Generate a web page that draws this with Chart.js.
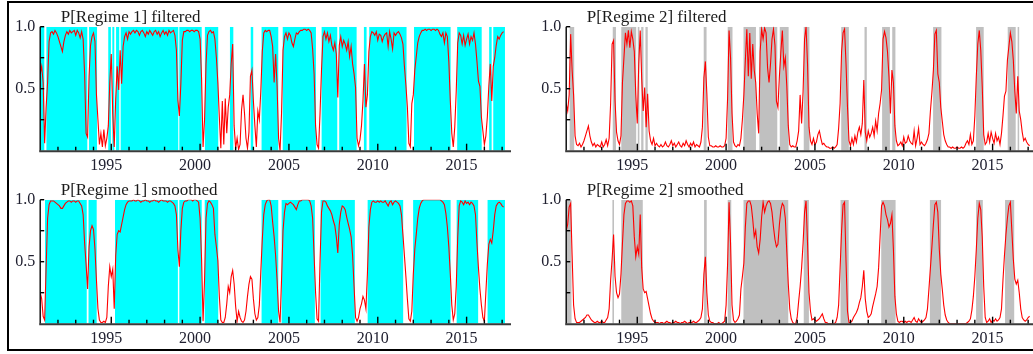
<!DOCTYPE html>
<html><head><meta charset="utf-8">
<script src="https://cdn.jsdelivr.net/npm/chart.js@4.4.0/dist/chart.umd.min.js"></script>
<style>
html,body{margin:0;padding:0;background:#fff;overflow:hidden;width:1033px;height:354px;}
#wrap{position:relative;width:1033px;height:354px;overflow:hidden;background:#fff;}
canvas{position:absolute;}
#frame{position:absolute;left:7px;top:1px;width:1100px;height:346px;border-left:2px solid #000;border-top:2px solid #000;border-bottom:2px solid #000;}
</style></head><body>
<div id="wrap">
<div id="frame"></div>
<canvas id="c1" width="520" height="176" style="left:0;top:0"></canvas>
<canvas id="c2" width="520" height="176" style="left:526px;top:0"></canvas>
<canvas id="c3" width="520" height="176" style="left:0;top:173px"></canvas>
<canvas id="c4" width="520" height="176" style="left:526px;top:173px"></canvas>
</div>
<script>
// Monthly observations starting January 1991 (values in percent)
const startYear = 1991;
const periodsPerYear = 12;

const p1Filtered = [62,68,55,6,35,55,88,95,96,94,
97,95,92,88,84,80,88,93,96,94,
97,95,96,97,93,97,95,91,96,90,
62,14,11,60,85,92,95,88,45,25,
5,14,3,17,4,10,20,55,78,30,
3,42,68,49,81,54,84,92,95,90,
96,94,96,97,95,97,96,93,96,97,
95,92,96,94,97,95,93,96,97,94,
96,92,95,97,94,96,93,97,95,96,
97,93,81,41,28,54,89,96,96,97,
97,96,97,97,96,97,97,96,90,58,
3,25,70,93,96,97,95,96,90,75,
55,27,2,40,5,42,14,35,45,70,
86,20,2,10,1,5,33,45,30,10,
2,15,60,65,40,20,3,32,25,48,
80,95,97,96,97,97,92,84,55,78,
52,10,0,30,81,92,95,90,95,93,
87,84,90,95,94,96,97,97,98,98,
97,98,97,95,82,62,20,5,2,30,
65,92,96,90,95,88,93,85,81,87,
78,43,85,92,84,89,86,81,88,76,
84,70,62,51,10,4,9,20,40,70,
35,45,80,92,96,95,93,96,89,94,
93,88,92,94,95,84,96,90,82,95,
93,95,96,94,91,86,68,53,35,6,
3,38,45,65,76,87,92,95,97,97,
98,97,98,98,97,98,98,97,98,97,
94,92,95,87,95,92,72,40,14,3,
19,48,87,95,93,86,93,85,90,94,
86,92,89,95,86,72,56,52,27,16,
5,12,27,52,70,40,68,75,85,92,
90,93,95,96];

const p2Filtered = [38,32,45,94,65,45,12,5,4,6,
3,5,8,12,16,20,12,7,4,6,
3,5,4,3,7,3,5,9,4,10,
38,86,89,40,15,8,5,12,55,75,
95,86,97,83,96,90,80,45,22,70,
97,58,32,51,19,46,16,8,5,10,
4,6,4,3,5,3,4,7,4,3,
5,8,4,6,3,5,7,4,3,6,
4,8,5,3,6,4,7,3,5,4,
3,7,19,59,72,46,11,4,4,3,
3,4,3,3,4,3,3,4,10,42,
97,75,30,7,4,3,5,4,10,25,
45,73,98,60,95,58,86,65,55,30,
14,80,98,90,99,95,67,55,70,90,
98,85,40,35,60,80,97,68,75,52,
20,5,3,4,3,3,8,16,45,22,
48,90,100,70,19,8,5,10,5,7,
13,16,10,5,6,4,3,3,2,2,
3,2,3,5,18,38,80,95,98,70,
35,8,4,10,5,12,7,15,19,13,
22,57,15,8,16,11,14,19,12,24,
16,30,38,49,90,96,91,80,60,30,
65,55,20,8,4,5,7,4,11,6,
7,12,8,6,5,16,4,10,18,5,
7,5,4,6,9,14,32,47,65,94,
97,62,55,35,24,13,8,5,3,3,
2,3,2,2,3,2,2,3,2,3,
6,8,5,13,5,8,28,60,86,97,
81,52,13,5,7,14,7,15,10,6,
14,8,11,5,14,28,44,48,73,84,
95,88,73,48,30,60,32,25,15,8,
10,7,5,4];

const p1Smoothed = [25,20,6,3,45,85,96,99,99,99,
98,97,96,95,93,93,95,97,98,99,
99,98,99,99,98,99,99,97,95,88,
65,48,28,62,75,79,76,60,35,12,
3,1,1,2,1,5,30,46,38,44,
12,55,72,75,74,80,86,92,96,98,
99,99,99,100,99,99,100,99,98,99,
99,100,99,99,98,99,99,100,99,99,
98,99,100,99,99,99,98,99,99,98,
97,95,88,60,46,75,93,98,99,99,
100,100,100,99,100,100,99,98,85,52,
2,35,85,97,99,98,96,93,72,62,
51,22,3,1,1,5,16,30,25,38,
43,32,14,2,10,5,2,1,3,10,
22,32,38,36,20,8,3,5,15,42,
68,88,96,99,100,100,95,82,70,55,
35,10,1,35,75,90,97,96,97,98,
97,96,94,92,96,99,99,100,100,100,
100,100,99,95,85,55,25,4,2,50,
90,99,99,98,95,93,91,88,83,79,
70,57,80,90,95,94,92,86,81,76,
70,55,30,5,2,5,12,16,22,19,
12,40,78,92,98,99,98,98,99,98,
99,98,98,99,97,95,98,99,96,98,
99,98,97,95,88,72,55,38,20,4,
2,10,40,60,72,85,93,97,99,100,
100,100,100,100,100,100,100,100,100,100,
100,99,98,96,89,78,62,40,15,3,
8,30,70,95,99,98,96,99,97,98,
96,98,97,95,88,65,45,28,15,5,
2,25,48,64,68,65,75,88,95,97,
98,97,95,94];

const p2Smoothed = [75,80,94,97,55,15,4,1,1,1,
2,3,4,5,7,7,5,3,2,1,
1,2,1,1,2,1,1,3,5,12,
35,52,72,38,25,21,24,40,65,88,
97,99,99,98,99,95,70,54,62,56,
88,45,28,25,26,20,14,8,4,2,
1,1,1,0,1,1,0,1,2,1,
1,0,1,1,2,1,1,0,1,1,
2,1,0,1,1,1,2,1,1,2,
3,5,12,40,54,25,7,2,1,1,
0,0,0,1,0,0,1,2,15,48,
98,65,15,3,1,2,4,7,28,38,
49,78,97,99,99,95,84,70,75,62,
57,68,86,98,90,95,98,99,97,90,
78,68,62,64,80,92,97,95,85,58,
32,12,4,1,0,0,5,18,30,45,
65,90,99,65,25,10,3,4,3,2,
3,4,6,8,4,1,1,0,0,0,
0,0,1,5,15,45,75,96,98,50,
10,1,1,2,5,7,9,12,17,21,
30,43,20,10,5,6,8,14,19,24,
30,45,70,95,98,95,88,84,78,81,
88,60,22,8,2,1,2,2,1,2,
1,2,2,1,3,5,2,1,4,2,
1,2,3,5,12,28,45,62,80,96,
98,90,60,40,28,15,7,3,1,0,
0,0,0,0,0,0,0,0,0,0,
0,1,2,4,11,22,38,60,85,97,
92,70,30,5,1,2,4,1,3,2,
4,2,3,5,12,35,55,72,85,95,
98,75,52,36,32,35,25,12,5,3,
2,3,5,6];

// Regime classification periods [start, end] in years
const r1FilteredShade = [[1991.0,1991.23],[1991.35,1993.65],[1993.75,1994.2],[1994.83,1994.98],[1995.06,1995.17],[1995.27,1995.45],[1995.53,1998.77],[1998.83,2000.09],[2000.27,2001.02],[2001.68,2001.87],[2002.85,2002.99],[2003.46,2004.40],[2004.65,2006.52],[2006.84,2007.72],[2007.83,2008.81],[2009.22,2009.37],[2009.52,2011.62],[2012.04,2014.10],[2014.47,2015.85],[2016.27,2016.41],[2016.50,2017.16]];
const r2FilteredShade = [[1991.18,1991.45],[1993.62,1993.8],[1994.1,1994.94],[1995.03,1995.12],[1995.22,1995.35],[1995.46,1995.59],[1998.74,1998.9],[2000.09,2000.36],[2000.98,2001.68],[2001.87,2002.88],[2003.02,2003.52],[2004.37,2004.69],[2006.48,2006.91],[2007.79,2007.92],[2008.78,2009.22],[2009.35,2009.53],[2011.65,2012.12],[2014.07,2014.5],[2015.85,2016.3],[2016.41,2016.51]];
const r1SmoothedShade = [[1991.27,1993.62],[1993.72,1994.18],[1995.21,1998.75],[1998.83,2000.09],[2000.26,2001.02],[2003.46,2004.40],[2004.59,2006.46],[2006.78,2008.71],[2009.43,2011.43],[2011.99,2014.10],[2014.44,2015.65],[2016.18,2017.16]];
const r2SmoothedShade = [[1991.0,1991.3],[1993.6,1993.69],[1994.1,1995.31],[1998.76,1998.91],[2000.09,2000.29],[2000.98,2003.5],[2004.37,2004.66],[2006.44,2006.9],[2008.73,2009.54],[2011.47,2012.1],[2014.07,2014.45],[2015.7,2016.23]];

const xLabelYears = [1995, 2000, 2005, 2010, 2015];
const yLabelValues = [0.5, 1.0];
const yTickValues = [0.25, 0.5, 0.75, 1.0];
const xMin = 1991, xMax = 2017.33;

const SERIF = '"Liberation Serif", "Times New Roman", serif';

function toPoints(vals) {
  return vals.map((v, i) => ({ x: startYear + i / periodsPerYear, y: v / 100 }));
}
function toShade(intervals) {
  const pts = [];
  intervals.forEach(([s, e]) => { pts.push({ x: s, y: 1 }); pts.push({ x: e, y: 0 }); });
  return pts;
}

const oxAxes = {
  id: 'oxAxes',
  afterDatasetsDraw(chart, args, opts) {
    const { ctx, chartArea: a, scales: { x, y } } = chart;
    ctx.save();
    ctx.strokeStyle = '#000';
    ctx.lineWidth = 1.4;
    ctx.beginPath(); ctx.moveTo(a.left, a.top); ctx.lineTo(a.left, a.bottom); ctx.stroke();
    for (let yr = Math.ceil(xMin + 0.5); yr <= Math.floor(xMax); yr++) {
      const px = x.getPixelForValue(yr);
      const len = yr % 5 === 0 ? 7 : 4;
      ctx.beginPath(); ctx.moveTo(px, a.bottom); ctx.lineTo(px, a.bottom - len); ctx.stroke();
    }
    for (const v of yTickValues) {
      const py = y.getPixelForValue(v);
      ctx.beginPath(); ctx.moveTo(a.left, py); ctx.lineTo(a.left + 4, py); ctx.stroke();
    }
    ctx.strokeStyle = '#3a3a3a';
    ctx.lineWidth = 2;
    ctx.beginPath(); ctx.moveTo(a.left - 1, a.bottom + 0.5); ctx.lineTo(a.right + 3, a.bottom + 0.5); ctx.stroke();
    ctx.fillStyle = '#1a1a1a';
    ctx.font = '17px ' + SERIF;
    ctx.textAlign = 'left';
    ctx.textBaseline = 'alphabetic';
    ctx.fillText(opts.text, a.left + 20.5, 21.5);
    ctx.restore();
  }
};

function makeChart(id, title, vals, shade, shadeColor) {
  return new Chart(document.getElementById(id), {
    type: 'line',
    data: {
      datasets: [
        { data: toPoints(vals), borderColor: '#ff0000', borderWidth: 1.1, pointRadius: 0, tension: 0, fill: false, order: 0 },
        { data: toShade(shade), stepped: true, borderWidth: 0, borderColor: 'rgba(0,0,0,0)', backgroundColor: shadeColor, fill: 'origin', pointRadius: 0, order: 1 }
      ]
    },
    options: {
      responsive: false,
      animation: false,
      events: [],
      layout: { padding: { left: 0, top: 26.7, right: 12, bottom: 0 } },
      plugins: {
        legend: { display: false },
        tooltip: { enabled: false },
        title: { display: false },
        oxAxes: { text: title }
      },
      scales: {
        x: {
          type: 'linear', min: xMin, max: xMax,
          grid: { display: false, drawTicks: false },
          border: { display: false },
          afterBuildTicks: s => { s.ticks = xLabelYears.map(v => ({ value: v })); },
          afterFit: s => { s.height = 25.3; },
          ticks: { autoSkip: false, maxRotation: 0, padding: 5, labelOffset: -5,
                   color: '#202030', font: { family: SERIF, size: 16 },
                   callback: v => String(v) }
        },
        y: {
          min: 0, max: 1,
          grid: { display: false, drawTicks: false },
          border: { display: false },
          afterBuildTicks: s => { s.ticks = yLabelValues.map(v => ({ value: v })); },
          afterFit: s => { s.width = 40.2; },
          ticks: { padding: 5, color: '#202030', font: { family: SERIF, size: 16 },
                   callback: v => Number(v).toFixed(1) }
        }
      }
    },
    plugins: [oxAxes]
  });
}

makeChart('c1', 'P[Regime 1] filtered', p1Filtered, r1FilteredShade, '#00ffff');
makeChart('c2', 'P[Regime 2] filtered', p2Filtered, r2FilteredShade, '#c0c0c0');
makeChart('c3', 'P[Regime 1] smoothed', p1Smoothed, r1SmoothedShade, '#00ffff');
makeChart('c4', 'P[Regime 2] smoothed', p2Smoothed, r2SmoothedShade, '#c0c0c0');
</script>
</body></html>
